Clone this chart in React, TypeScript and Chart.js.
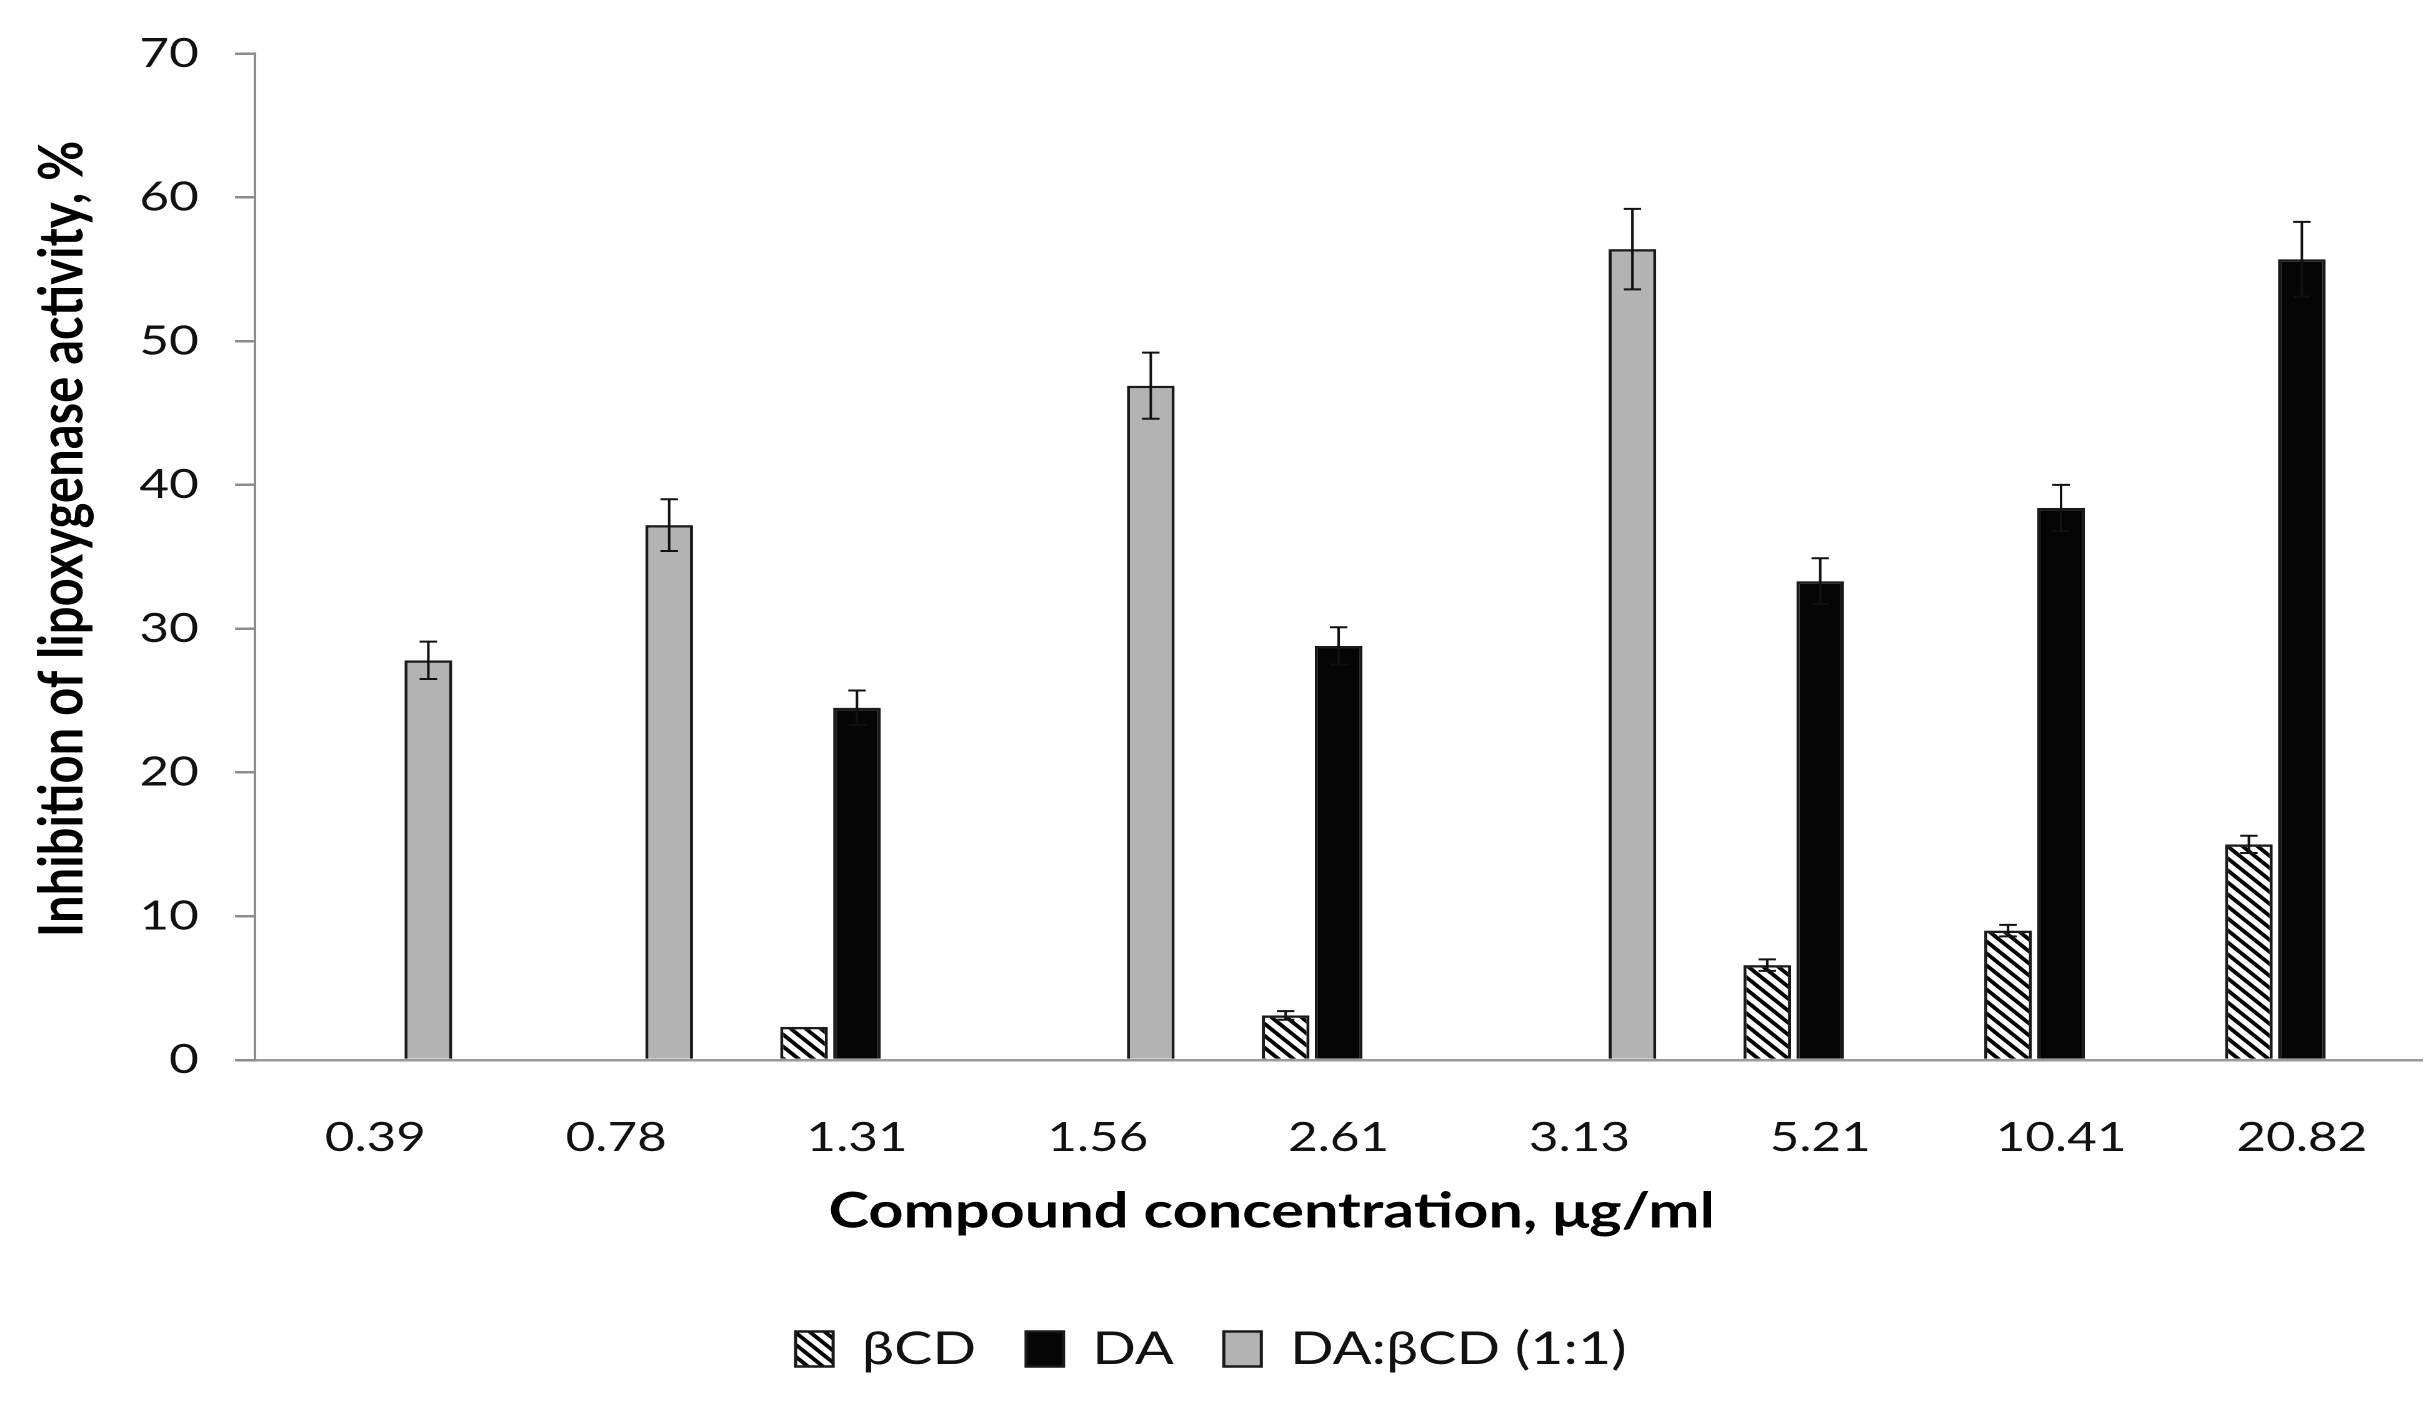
import { useEffect, useRef } from 'react';
import { Chart, registerables } from 'chart.js';

Chart.register(...registerables);

const concentrations = ['0.39', '0.78', '1.31', '1.56', '2.61', '3.13', '5.21', '10.41', '20.82'];

const bcdValues = [null, null, 2.3, null, 3.1, null, 6.6, 9.0, 15.0];
const bcdErrors = [0, 0, 0, 0, 0.3, 0, 0.4, 0.4, 0.6];

const daValues = [null, null, 24.5, null, 28.8, null, 33.3, 38.4, 55.7];
const daErrors = [0, 0, 1.2, 0, 1.3, 0, 1.6, 1.6, 2.6];

const mixValues = [27.8, 37.2, null, 46.9, null, 56.4, null, null, null];
const mixErrors = [1.3, 1.8, 0, 2.3, 0, 2.8, 0, 0, 0];

const yTicks = [0, 10, 20, 30, 40, 50, 60, 70];

const errorSets = [bcdErrors, daErrors, mixErrors];

// the original figure is stretched sideways, so the chart is drawn narrower and widened with CSS
const PAGE_W = 2436;
const DRAW_W = 1949;
const FONT = "Lato, 'Open Sans', sans-serif";

function makeHatch(): CanvasPattern | string {
  const s = 24;
  const tile = document.createElement('canvas');
  tile.width = s;
  tile.height = s;
  const t = tile.getContext('2d');
  if (!t) return '#fff';
  t.fillStyle = '#fff';
  t.fillRect(0, 0, s, s);
  t.strokeStyle = '#000';
  t.lineWidth = 7;
  t.beginPath();
  t.moveTo(-s, 0);
  t.lineTo(s, 2 * s);
  t.moveTo(0, 0);
  t.lineTo(s, s);
  t.moveTo(0, -s);
  t.lineTo(2 * s, s);
  t.stroke();
  const p = t.createPattern(tile, 'repeat');
  if (!p) return '#fff';
  // tile is drawn at 2x, the chart canvas uses devicePixelRatio 2
  p.setTransform(new DOMMatrix().scale(0.5, 0.5));
  return p;
}

const errorBars = {
  id: 'errorBars',
  afterDatasetsDraw(chart: Chart) {
    const { ctx } = chart;
    const y = chart.scales.y;
    ctx.save();
    ctx.strokeStyle = '#111';
    ctx.lineWidth = 2;
    chart.data.datasets.forEach((ds, i) => {
      const meta = chart.getDatasetMeta(i);
      meta.data.forEach((bar: any, j) => {
        const v = ds.data[j] as number | null;
        const e = errorSets[i][j];
        if (v == null || !e) return;
        const top = y.getPixelForValue(v + e);
        const bottom = y.getPixelForValue(v - e);
        ctx.beginPath();
        ctx.moveTo(bar.x, top);
        ctx.lineTo(bar.x, bottom);
        ctx.moveTo(bar.x - 7, top);
        ctx.lineTo(bar.x + 7, top);
        ctx.moveTo(bar.x - 7, bottom);
        ctx.lineTo(bar.x + 7, bottom);
        ctx.stroke();
      });
    });
    ctx.restore();
  },
};

export default function App() {
  const canvasRef = useRef<HTMLCanvasElement | null>(null);
  const chartRef = useRef<Chart | null>(null);

  useEffect(() => {
    document.body.style.margin = '0';
    const ctx = canvasRef.current?.getContext('2d');
    if (!ctx) return;

    if (chartRef.current) {
      chartRef.current.destroy();
    }

    const barStyle = {
      borderColor: '#1a1a1a',
      borderWidth: 2.5,
      categoryPercentage: 0.66,
      barPercentage: 0.9,
    };

    chartRef.current = new Chart(ctx, {
      type: 'bar',
      data: {
        labels: concentrations,
        datasets: [
          { label: 'βCD', data: bcdValues, backgroundColor: makeHatch(), ...barStyle },
          { label: 'DA', data: daValues, backgroundColor: '#050505', ...barStyle },
          { label: 'DA:βCD (1:1)', data: mixValues, backgroundColor: '#b3b3b3', ...barStyle },
        ],
      },
      options: {
        responsive: true,
        maintainAspectRatio: false,
        animation: false,
        devicePixelRatio: 2,
        layout: { padding: { top: 52, right: 11, bottom: 20, left: 0 } },
        plugins: {
          tooltip: { enabled: false },
          legend: {
            position: 'bottom',
            labels: {
              color: '#111',
              font: { family: FONT, size: 46 },
              boxWidth: 30,
              boxHeight: 35,
              padding: 40,
            },
          },
        },
        scales: {
          x: {
            afterFit: (scale: any) => {
              scale.height = 226;
            },
            grid: { display: true, drawOnChartArea: false, drawTicks: false },
            border: { display: true, color: '#9a9a9a', width: 2.5 },
            ticks: {
              color: '#111',
              padding: 53,
              font: { family: FONT, size: 41 },
            },
            title: {
              display: true,
              text: 'Compound concentration, μg/ml' + ' '.repeat(9),
              color: '#000',
              font: { family: FONT, size: 49, weight: 'bold' },
              padding: { top: 0, bottom: 45 },
            },
          },
          y: {
            min: 0,
            max: 70,
            afterFit: (scale: any) => {
              scale.width = 204;
            },
            afterBuildTicks: (scale: any) => {
              scale.ticks = yTicks.map((v) => ({ value: v }));
            },
            grid: {
              display: true,
              drawOnChartArea: false,
              drawTicks: true,
              tickLength: 16,
              color: '#8c8c8c',
              lineWidth: 2.5,
            },
            border: { display: true, color: '#8c8c8c', width: 2 },
            ticks: {
              color: '#111',
              padding: 29,
              font: { family: FONT, size: 41 },
            },
            title: {
              display: true,
              text: '   Inhibition of lipoxygenase activity, %',
              color: '#000',
              font: { family: FONT, size: 49, weight: 'bold' },
              padding: { top: 21, bottom: 0 },
            },
          },
        },
      },
      plugins: [errorBars],
    });

    return () => {
      if (chartRef.current) {
        chartRef.current.destroy();
        chartRef.current = null;
      }
    };
  }, []);

  return (
    <div style={{ width: PAGE_W, height: 1402, overflow: 'hidden', background: '#fff' }}>
      <div
        style={{
          width: DRAW_W,
          height: 1402,
          position: 'relative',
          transform: `scaleX(${PAGE_W / DRAW_W})`,
          transformOrigin: '0 0',
        }}
      >
        <canvas ref={canvasRef}></canvas>
      </div>
    </div>
  );
}
